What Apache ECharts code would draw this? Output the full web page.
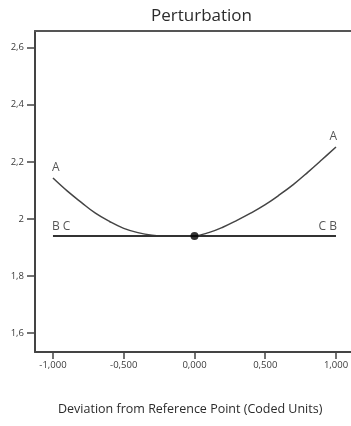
<!DOCTYPE html>
<html>
<head>
<meta charset="utf-8">
<script src="https://cdn.jsdelivr.net/npm/echarts@6/dist/echarts.min.js"></script>
<style>
  html, body { margin: 0; padding: 0; background: #fff; overflow: hidden; }
  #chart { width: 351px; height: 426px; }
</style>
</head>
<body>
<div id="chart"></div>
<script>
// Coded deviation from the reference point
const deviation = [-1.0, -0.9, -0.8, -0.7, -0.6, -0.5, -0.4, -0.3, -0.2, -0.1, 0.0,
                   0.1, 0.2, 0.3, 0.4, 0.5, 0.6, 0.7, 0.8, 0.9, 1.0];
// Response along factor A
const factorA = [2.143, 2.098, 2.058, 2.020, 1.991, 1.967, 1.952, 1.943, 1.940, 1.940, 1.941,
                 1.952, 1.971, 1.995, 2.021, 2.050, 2.084, 2.121, 2.163, 2.207, 2.252];
// Response along factors B and C (flat)
const factorBCx = [-1.0, 1.0];
const factorBC = [1.940, 1.940];
// Reference point
const refPoint = [0.0, 1.940];

const yTicks = [1.6, 1.8, 2.0, 2.2, 2.4, 2.6];
const xTicks = [-1.0, -0.5, 0.0, 0.5, 1.0];

const fmtY = v => (Math.abs(v - Math.round(v)) < 1e-9 ? String(Math.round(v)) : v.toFixed(1)).replace('.', ',');
const fmtX = v => v.toFixed(3).replace('.', ',');

const ink = '#2b2b2b';
const font = 'Open Sans, Noto Sans, sans-serif';
const lastA = factorA.length - 1;

const chart = echarts.init(document.getElementById('chart'), null, { renderer: 'canvas' });

// Trace tags placed at the ends of each curve
const tagData = [
  { value: [deviation[0], factorA[0]], label: { formatter: 'A', align: 'left', position: [-1, -4] } },
  { value: [deviation[lastA], factorA[lastA]], label: { formatter: 'A', align: 'right', position: [1, -4] } },
  { value: [factorBCx[0], factorBC[0]], label: { formatter: 'B C', align: 'left', position: [-1, -3] } },
  { value: [factorBCx[1], factorBC[1]], label: { formatter: 'C B', align: 'right', position: [1, -3] } }
];

// The plot frame runs past the right edge of the page, so only left, top and bottom show
const xMin = -1.127, xMax = 1.205;

chart.setOption({
  animation: false,
  title: {
    text: 'Perturbation',
    left: 146,
    top: 3,
    textStyle: { fontFamily: font, fontSize: 17, fontWeight: 'normal', color: ink }
  },
  grid: { left: 35, top: 31, width: 330, height: 321, outerBoundsMode: 'none', containLabel: false },
  graphic: [{
    type: 'text',
    left: 58,
    top: 403,
    style: {
      text: 'Deviation from Reference Point (Coded Units)',
      font: '12.5px ' + font,
      fill: ink
    }
  }],
  xAxis: [
    {
      type: 'value',
      min: xMin, max: xMax,
      splitLine: { show: false },
      axisLine: { show: true, onZero: false, lineStyle: { color: '#444', width: 2 } },
      axisTick: { show: true, length: 7, customValues: xTicks, lineStyle: { color: '#444', width: 1.5 } },
      axisLabel: { customValues: xTicks, formatter: fmtX, fontFamily: font, fontSize: 9.5, color: '#3a3a3a', margin: 8 }
    },
    {
      type: 'value',
      position: 'top',
      min: xMin, max: xMax,
      splitLine: { show: false },
      axisLine: { show: true, onZero: false, lineStyle: { color: '#555', width: 2 } },
      axisTick: { show: false },
      axisLabel: { show: false }
    }
  ],
  yAxis: {
    type: 'value',
    min: 1.534, max: 2.658,
    splitLine: { show: false },
    axisLine: { show: true, onZero: false, lineStyle: { color: '#444', width: 2 } },
    axisTick: { show: true, length: 8, customValues: yTicks, lineStyle: { color: '#444', width: 1.5 } },
    axisLabel: { customValues: yTicks, formatter: fmtY, fontFamily: font, fontSize: 9.5, color: '#3a3a3a', margin: 11 }
  },
  series: [
    {
      name: 'A',
      type: 'line',
      smooth: 0.4,
      symbol: 'none',
      data: deviation.map((x, i) => [x, factorA[i]]),
      lineStyle: { color: '#444', width: 1.5 }
    },
    {
      name: 'BC',
      type: 'line',
      symbol: 'none',
      data: factorBCx.map((x, i) => [x, factorBC[i]]),
      lineStyle: { color: '#333', width: 2 }
    },
    {
      name: 'Tags',
      type: 'scatter',
      symbolSize: 0,
      silent: true,
      data: tagData,
      label: { show: true, color: ink, fontFamily: font, fontSize: 12, verticalAlign: 'bottom' }
    },
    {
      name: 'Reference',
      type: 'scatter',
      symbol: 'circle',
      symbolSize: 8,
      data: [refPoint],
      itemStyle: { color: '#000' },
      z: 5
    }
  ]
});
</script>
</body>
</html>
